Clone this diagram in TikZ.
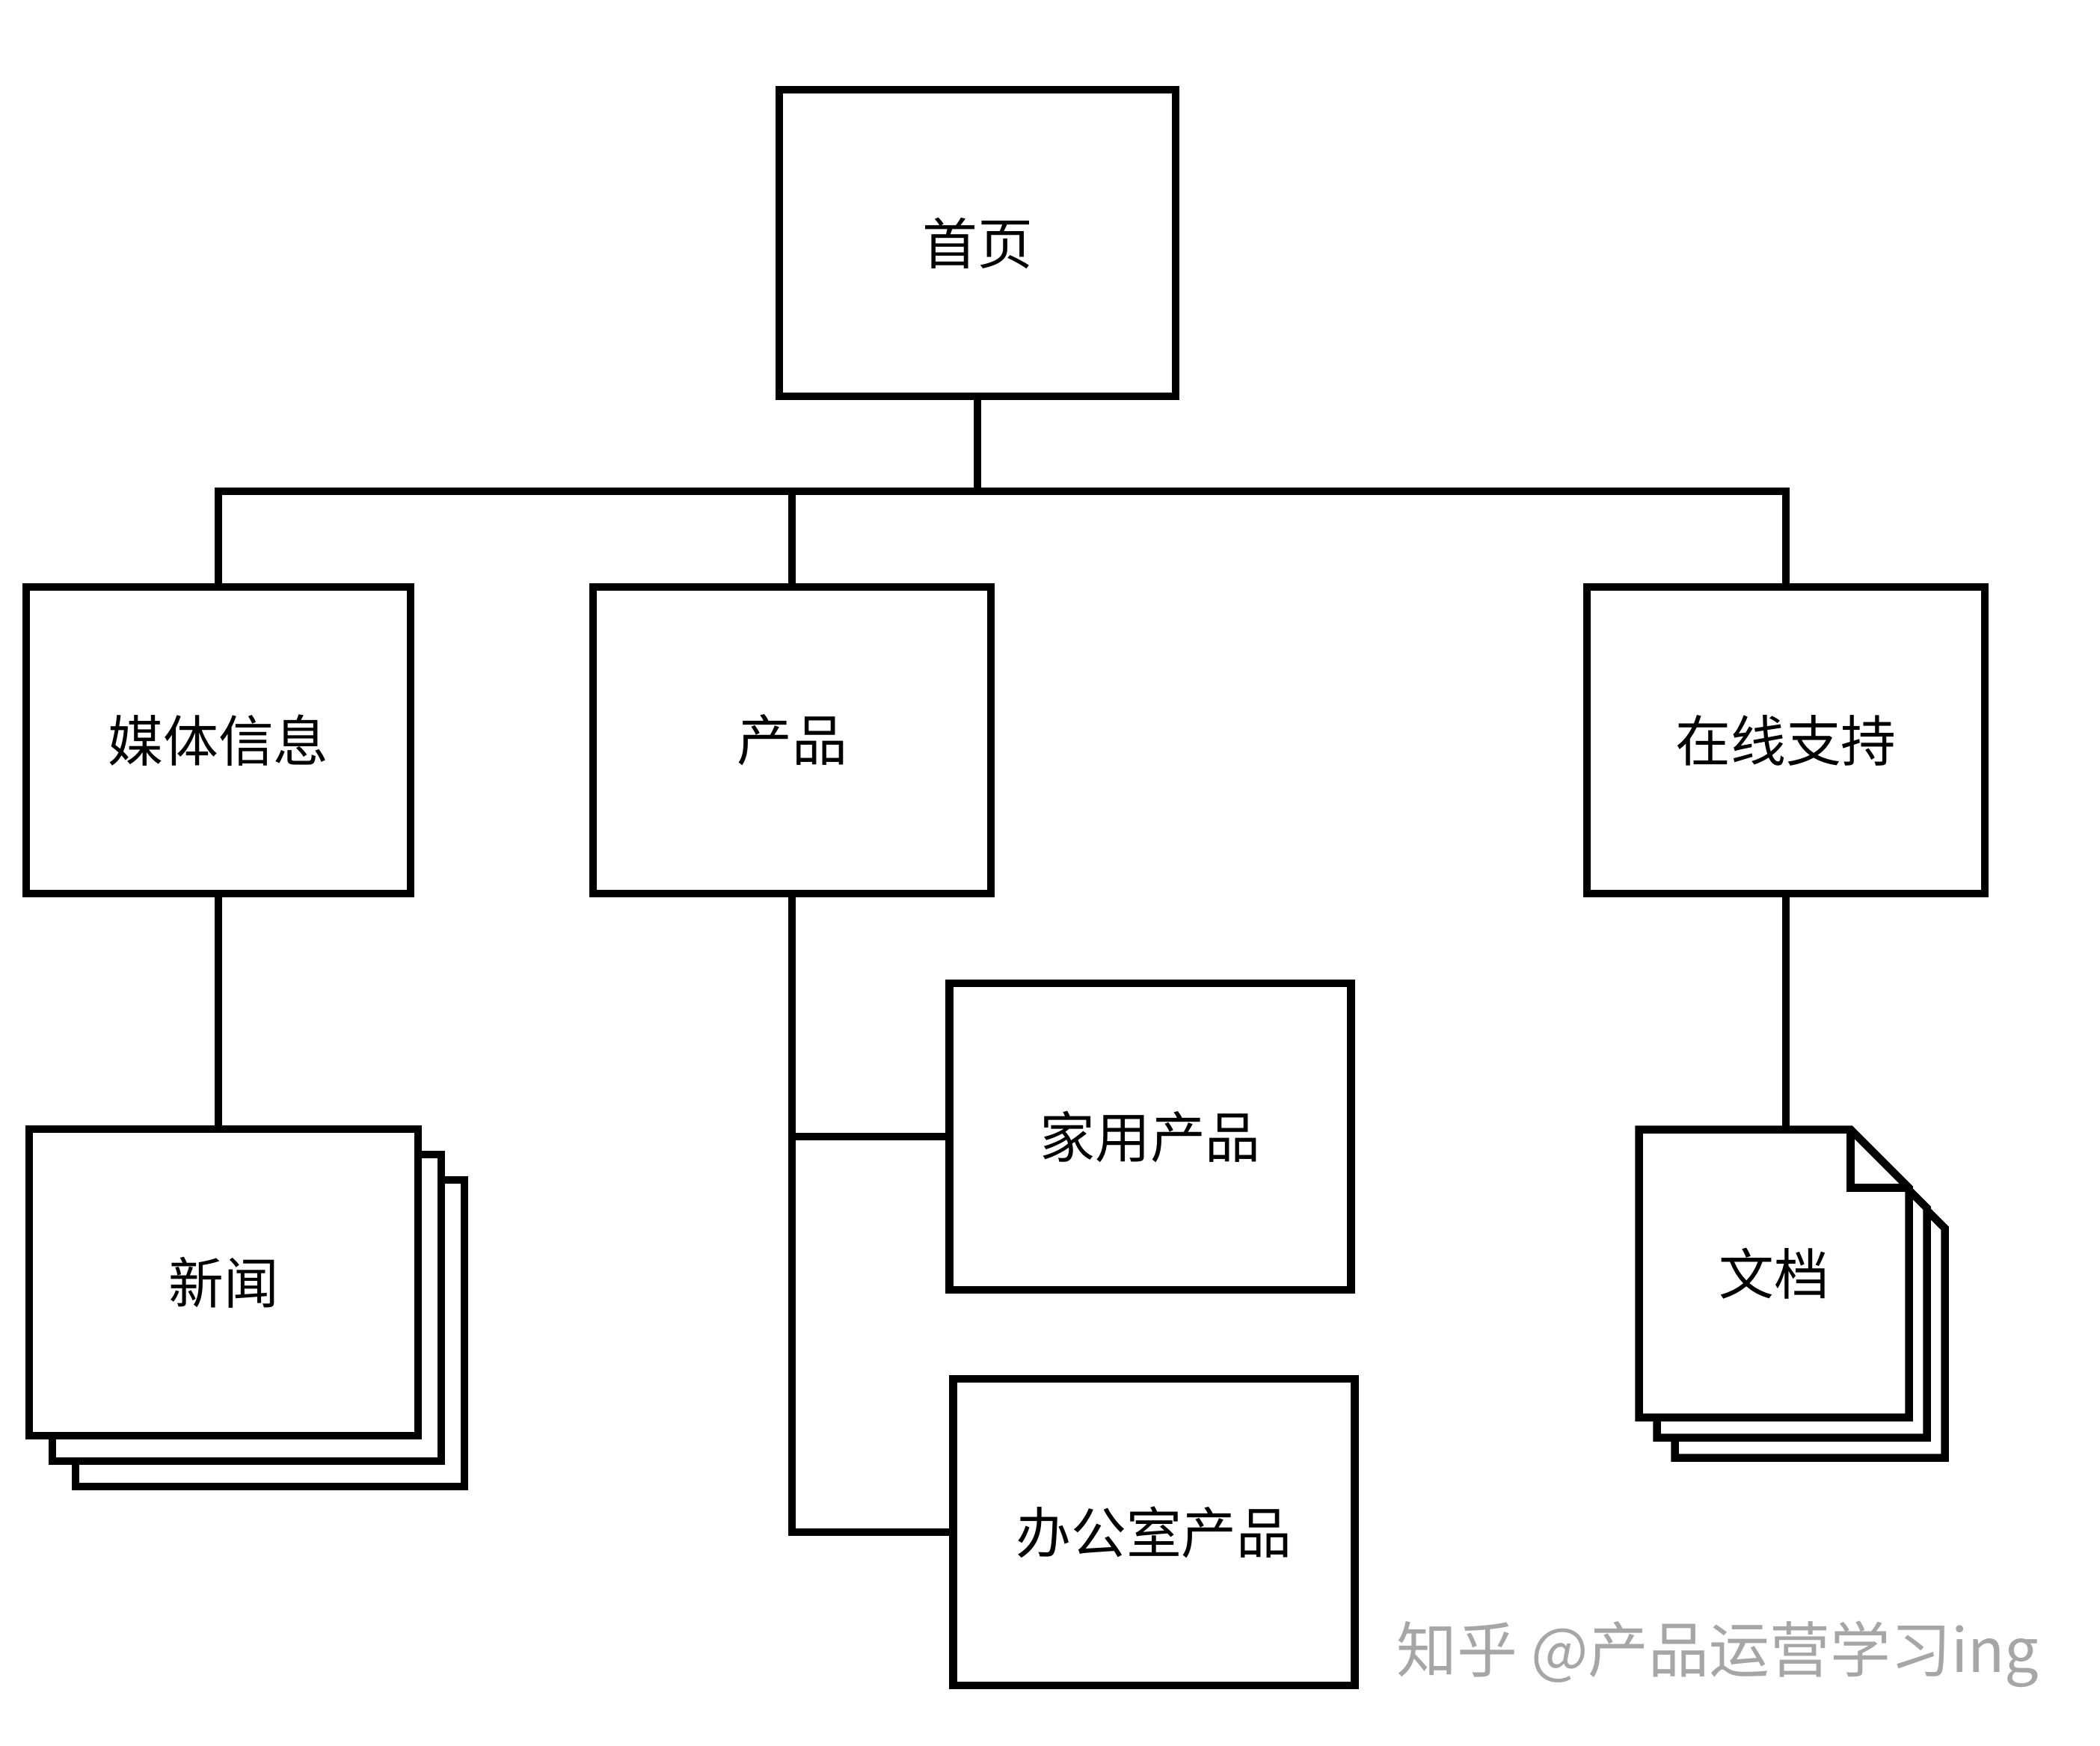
\documentclass[tikz,border=0pt]{standalone}
\usepackage{fontspec}
\newfontfamily\cjk{Noto Sans CJK SC}
\usepackage{tikz}
\usetikzlibrary{backgrounds}
\newcommand{\fold}[0] {0.78cm}

\tikzset{
  box/.style={draw=black, line width=3pt, fill=white, inner sep=0pt,
    minimum width=5.3cm, minimum height=4.1cm, font=\cjk\fontsize{21}{25}\selectfont},
  sheet/.style={draw=black, line width=3pt, fill=white, line join=miter},
  docbox/.style={inner sep=0pt, outer sep=0pt, minimum width=3.61cm, minimum height=3.85cm,
    font=\cjk\fontsize{21}{25}\selectfont},
  link/.style={draw=black, line width=2.6pt, line join=miter},
  watermark/.style={text=black!35, font=\cjk\fontsize{23}{27}\selectfont},
}
\newcommand{\dogear}[1]{%
  \draw[sheet] (#1.north west) -- ([xshift=-\fold]#1.north east) -- ([yshift=-\fold]#1.north east)
    -- (#1.south east) -- (#1.south west) -- cycle;}

\begin{document}
\begin{tikzpicture}
        \useasboundingbox (0,0) rectangle (28.08,-23.34);

        \node[box] (home) at (13.07,-3.25)     {首页};
        \node[box, minimum width=5.14cm] (media) at (2.92,-9.9)     {媒体信息};
        \node[box, minimum width=5.32cm] (prod) at (10.59,-9.9)     {产品};
        \node[box, minimum width=5.32cm] (help) at (23.88,-9.9)     {在线支持};

        % news, three sheets
        \node[box, minimum width=5.2cm] (news3) at (3.61,-17.83)     {};
        \node[box, minimum width=5.2cm] (news2) at (3.30,-17.49)     {};
        \node[box, minimum width=5.2cm] (news) at (2.99,-17.15)     {新闻};

        \node[box, minimum width=5.37cm] (homeprod) at (15.38,-15.2)     {家用产品};
        \node[box, minimum width=5.37cm] (office) at (15.43,-20.49)     {办公室产品};

        % documents, three sheets with folded corner
        \node[docbox] (doc3) at (24.20,-17.57)     {};
        \node[docbox] (doc2) at (23.96,-17.30)     {};
        \node[docbox] (doc) at (23.72,-17.03)     {文档};
        \begin{pgfonlayer}{background}
            \dogear{doc3}
            \dogear{doc2}
            \dogear{doc}
            \draw[sheet, fill=none] ([xshift=-\fold]doc.north east) |- ([yshift=-\fold]doc.north east);
        \end{pgfonlayer}

        %tree lines
        \coordinate (bus) at (13.07,-6.57);
        \draw[link] (home) -- (bus);
        \draw[link] (media) |- (bus) -| (help);
        \draw[link] (prod.north) -- (prod.north |- bus);
        \draw[link] (media.south) -- (media.south |- news.north);
        \draw[link] (prod.south) |- (office);
        \draw[link] (prod.south |- homeprod) -- (homeprod);
        \draw[link] (help.south) -- (help.south |- doc.north);

        \node[watermark] (mark1) at (22.97,-22.12)     {知乎 @产品运营学习ing};
\end{tikzpicture}
\end{document}
